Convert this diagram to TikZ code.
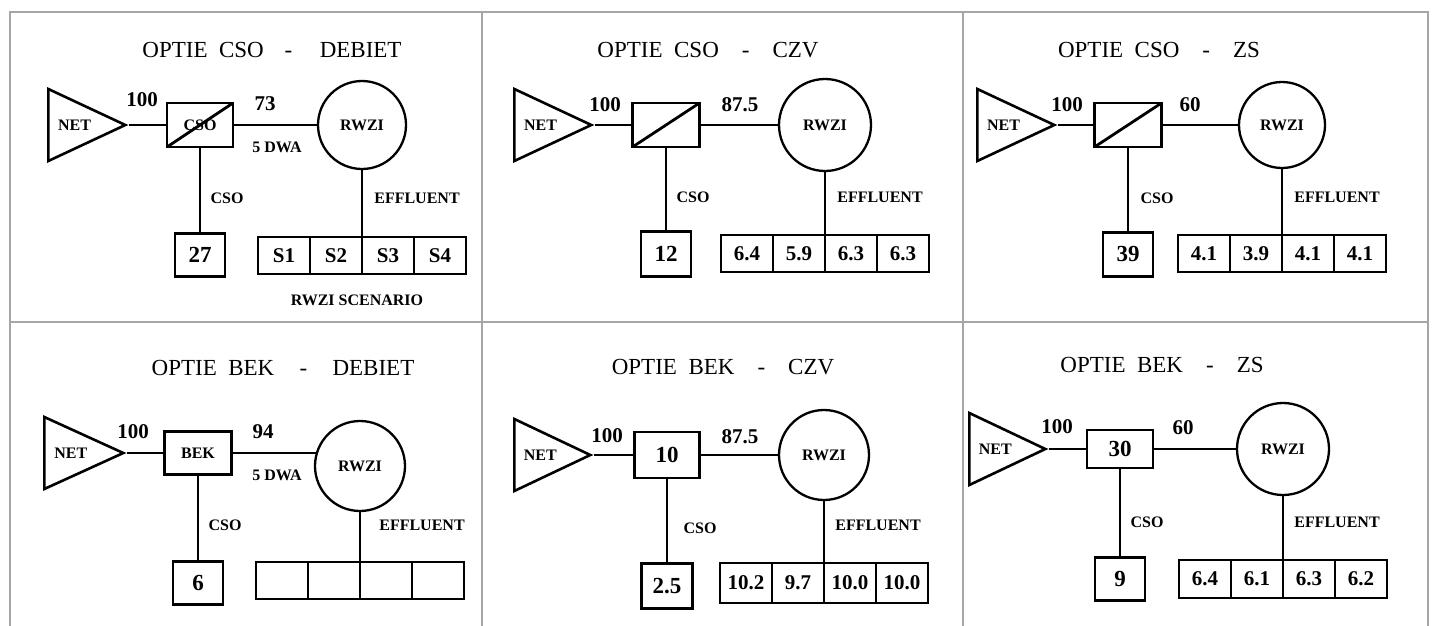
\documentclass[tikz,border=0pt]{standalone}
\usepackage{fontspec}
\setmainfont{Liberation Serif}
\usetikzlibrary{positioning,shapes.geometric}

\begin{document}
\begin{tikzpicture}[x=1pt,y=-1pt]
  \tikzstyle{frame}=[draw=gray!70,line width=1.2pt]
  \tikzstyle{title}=[font=\fontsize{23}{23}\selectfont]
  \tikzstyle{lbl}=[font=\bfseries\fontsize{16}{16}\selectfont]
  \tikzstyle{val}=[font=\bfseries\fontsize{21}{21}\selectfont]
  \tikzstyle{flow}=[line width=2.8pt]
  \tikzstyle{net}=[draw,line width=2.6pt,isosceles triangle,isosceles triangle stretches,inner sep=0pt,minimum width=72pt,minimum height=77pt,anchor=lower side,lbl]
  \tikzstyle{splitbox}=[draw,line width=2.8pt,minimum width=66pt,minimum height=44pt,inner sep=0pt,lbl,path picture={\draw[line width=2.8pt] (path picture bounding box.south west) -- (path picture bounding box.north east);}]
  \tikzstyle{bekbox}=[draw,line width=2.8pt,minimum width=66pt,minimum height=44pt,inner sep=0pt]
  \tikzstyle{plant}=[draw,circle,line width=2.3pt,minimum size=88pt,inner sep=0pt,lbl]
  \tikzstyle{outbox}=[draw,line width=2.8pt,minimum width=50pt,minimum height=43pt,inner sep=0pt,font=\bfseries\fontsize{23}{23}\selectfont]
  \tikzstyle{cell}=[draw,line width=2.8pt,minimum width=52pt,minimum height=37pt,inner sep=0pt,outer sep=0pt,val]
  \useasboundingbox (0,0) rectangle (1434,626);
  \fill[white] (0,0) rectangle (1434,626);
  \draw[frame] (10,626) -- (10,12) -- (1428,12) -- (1428,626);
  \draw[frame] (482,12) -- (482,626);
  \draw[frame] (963,12) -- (963,626);
  \draw[frame] (10,322) -- (1428,322);
  \node[title] (t1) at (272,50) {OPTIE\hspace{0.5em}CSO\hspace{0.9em}-\hspace{1.2em}DEBIET};
  \node[net] (net1) at (47,125) {NET};
  \node[splitbox] (split1) at (200,125) {CSO};
  \node[plant] (rwzi1) at (362,125) {RWZI};
  \node[outbox,anchor=north] (out1) at (split1.south |- 0,232) {27};
  \node[cell,anchor=north east] (c1b) at (rwzi1.south |- 0,237) {S2};
  \node[cell,left=0pt of c1b] (c1a) {S1};
  \node[cell,right=0pt of c1b] (c1c) {S3};
  \node[cell,right=0pt of c1c] (c1d) {S4};
  \draw[flow] (net1.apex) -- (split1.west);
  \draw[flow] (split1) -- (rwzi1);
  \draw[flow] (split1.south) -- (out1.north);
  \draw[flow] (rwzi1.south) -- (c1b.north east);
  \node[val] (in1) at (142,100) {100};
  \node[val] (q1) at (265,104) {73};
  \node[lbl] (dwa1) at (277,147) {5 DWA};
  \node[lbl] (cso1) at (227,198) {CSO};
  \node[lbl] (eff1) at (417,198) {EFFLUENT};
  \node[lbl] (scen1) at (357,300) {RWZI SCENARIO};
  \node[title] (t2) at (708,50) {OPTIE\hspace{0.5em}CSO\hspace{1em}-\hspace{1em}CZV};
  \node[net] (net2) at (513,125) {NET};
  \node[splitbox,minimum width=67pt] (split2) at (666,125) {};
  \node[plant,minimum size=92pt] (rwzi2) at (825,125) {RWZI};
  \node[outbox,minimum height=45pt,anchor=north] (out2) at (split2.south |- 0,230) {12};
  \node[cell,anchor=north east] (c2b) at (rwzi2.south |- 0,235) {5.9};
  \node[cell,left=0pt of c2b] (c2a) {6.4};
  \node[cell,right=0pt of c2b] (c2c) {6.3};
  \node[cell,right=0pt of c2c] (c2d) {6.3};
  \draw[flow] (net2.apex) -- (split2.west);
  \draw[flow] (split2) -- (rwzi2);
  \draw[flow] (split2.south) -- (out2.north);
  \draw[flow] (rwzi2.south) -- (c2b.north east);
  \node[val] (in2) at (605,105) {100};
  \node[val] (q2) at (740,105) {87.5};
  \node[lbl] (cso2) at (693,197) {CSO};
  \node[lbl] (eff2) at (880,197) {EFFLUENT};
  \node[title] (t3) at (1159,50) {OPTIE\hspace{0.5em}CSO\hspace{1em}-\hspace{1em}ZS};
  \node[net] (net3) at (976,125) {NET};
  \node[splitbox,minimum width=67pt] (split3) at (1128,125) {};
  \node[plant,minimum size=86pt] (rwzi3) at (1282,125) {RWZI};
  \node[outbox,minimum height=44pt,anchor=north] (out3) at (split3.south |- 0,231) {39};
  \node[cell,anchor=north east] (c3b) at (rwzi3.south |- 0,235) {3.9};
  \node[cell,left=0pt of c3b] (c3a) {4.1};
  \node[cell,right=0pt of c3b] (c3c) {4.1};
  \node[cell,right=0pt of c3c] (c3d) {4.1};
  \draw[flow] (net3.apex) -- (split3.west);
  \draw[flow] (split3) -- (rwzi3);
  \draw[flow] (split3.south) -- (out3.north);
  \draw[flow] (rwzi3.south) -- (c3b.north east);
  \node[val] (in3) at (1067,105) {100};
  \node[val] (q3) at (1190,105) {60};
  \node[lbl] (cso3) at (1157,198) {CSO};
  \node[lbl] (eff3) at (1337,197) {EFFLUENT};
  \node[title] (t4) at (283,368) {OPTIE\hspace{0.5em}BEK\hspace{1.1em}-\hspace{1.1em}DEBIET};
  \node[net,minimum height=79pt] (net4) at (43,453) {NET};
  \node[bekbox,minimum width=67pt,minimum height=43pt,lbl] (bek4) at (198,453) {BEK};
  \node[plant,minimum size=90pt] (rwzi4) at (360,466) {RWZI};
  \node[outbox,anchor=north] (out4) at (bek4.south |- 0,560) {6};
  \node[cell,anchor=north east] (c4b) at (rwzi4.south |- 0,562) {};
  \node[cell,left=0pt of c4b] (c4a) {};
  \node[cell,right=0pt of c4b] (c4c) {};
  \node[cell,right=0pt of c4c] (c4d) {};
  \draw[flow] (net4.apex) -- (bek4.west);
  \draw[flow] (bek4.east) -- (bek4.east -| rwzi4.163);
  \draw[flow] (bek4.south) -- (out4.north);
  \draw[flow] (rwzi4.south) -- (c4b.north east);
  \node[val] (in4) at (133,432) {100};
  \node[val] (q4) at (263,432) {94};
  \node[lbl] (dwa4) at (277,475) {5 DWA};
  \node[lbl] (cso4) at (225,525) {CSO};
  \node[lbl] (eff4) at (422,525) {EFFLUENT};
  \node[title] (t5) at (723,367) {OPTIE\hspace{0.5em}BEK\hspace{1em}-\hspace{1em}CZV};
  \node[net,minimum height=76pt] (net5) at (513,455) {NET};
  \node[outbox,minimum width=65pt,minimum height=46pt] (bek5) at (667,455) {10};
  \node[plant,minimum size=90pt] (rwzi5) at (824,455) {RWZI};
  \node[outbox,minimum width=51pt,minimum height=45pt,anchor=north] (out5) at (bek5.south |- 0,562) {2.5};
  \node[cell,minimum height=40pt,anchor=north east] (c5b) at (rwzi5.south |- 0,563) {9.7};
  \node[cell,minimum height=40pt,left=0pt of c5b] (c5a) {10.2};
  \node[cell,minimum height=40pt,right=0pt of c5b] (c5c) {10.0};
  \node[cell,minimum height=40pt,right=0pt of c5c] (c5d) {10.0};
  \draw[flow] (net5.apex) -- (bek5.west);
  \draw[flow] (bek5) -- (rwzi5);
  \draw[flow] (bek5.south) -- (out5.north);
  \draw[flow] (rwzi5.south) -- (c5b.north east);
  \node[val] (in5) at (607,436) {100};
  \node[val] (q5) at (740,437) {87.5};
  \node[lbl] (cso5) at (700,528) {CSO};
  \node[lbl] (eff5) at (878,525) {EFFLUENT};
  \node[title] (t6) at (1162,365) {OPTIE\hspace{0.5em}BEK\hspace{1em}-\hspace{1em}ZS};
  \node[net,minimum height=76pt] (net6) at (968,449) {NET};
  \node[outbox,minimum width=66pt,minimum height=38pt] (bek6) at (1120,449) {30};
  \node[plant,minimum size=92pt] (rwzi6) at (1283,449) {RWZI};
  \node[outbox,anchor=north] (out6) at (bek6.south |- 0,556) {9};
  \node[cell,minimum height=38pt,anchor=north east] (c6b) at (rwzi6.south |- 0,560) {6.1};
  \node[cell,minimum height=38pt,left=0pt of c6b] (c6a) {6.4};
  \node[cell,minimum height=38pt,right=0pt of c6b] (c6c) {6.3};
  \node[cell,minimum height=38pt,right=0pt of c6c] (c6d) {6.2};
  \draw[flow] (net6.apex) -- (bek6.west);
  \draw[flow] (bek6) -- (rwzi6);
  \draw[flow] (bek6.south) -- (out6.north);
  \draw[flow] (rwzi6.south) -- (c6b.north east);
  \node[val] (in6) at (1057,427) {100};
  \node[val] (q6) at (1183,428) {60};
  \node[lbl] (cso6) at (1147,522) {CSO};
  \node[lbl] (eff6) at (1337,522) {EFFLUENT};
\end{tikzpicture}
\end{document}
